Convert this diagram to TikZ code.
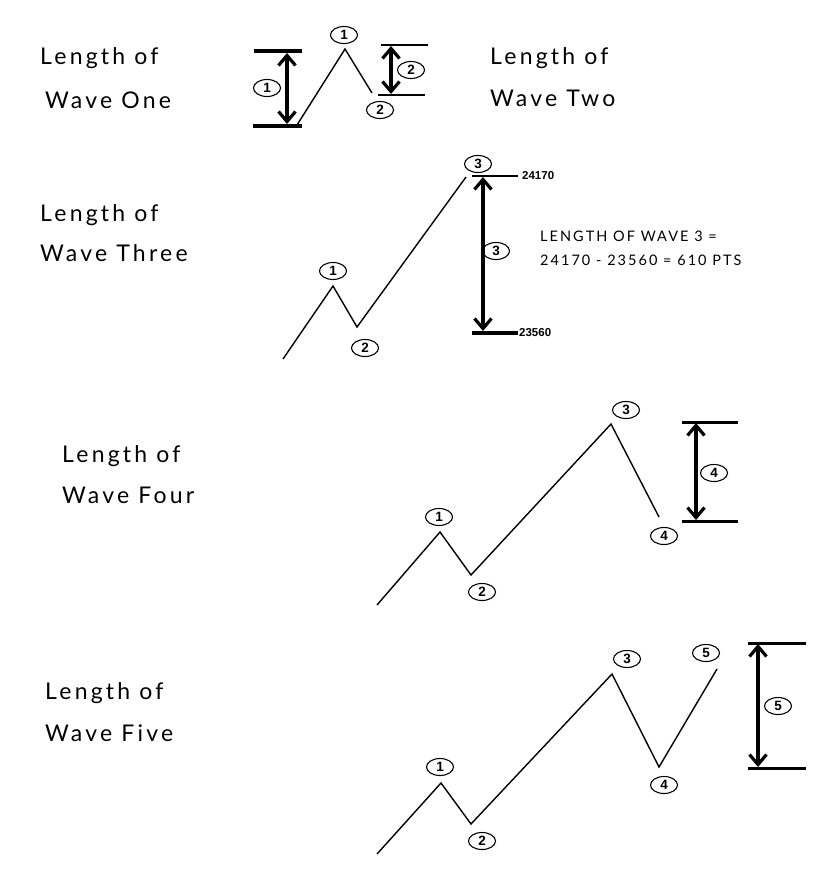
\documentclass[tikz,border=0pt]{standalone}
\usepackage{fontspec}
\usetikzlibrary{arrows.meta,shapes.geometric}
\newfontfamily\hand{Lato}[LetterSpace=14]
\newfontfamily\lbl{Liberation Sans}
\newfontfamily\handcaps{Lato}[LetterSpace=14]
\tikzset{
  title/.style={anchor=west,font=\hand\fontsize{23}{23}\selectfont,inner sep=0pt},
  num/.style={ellipse,draw,line width=1.1pt,inner xsep=3pt,inner ysep=0.5pt,font=\lbl\bfseries\fontsize{13.5}{13.5}\selectfont,minimum width=27pt,minimum height=17pt},
  wave/.style={line width=1.4pt,line join=miter},
  thickbar/.style={line width=4pt},
  thinbar/.style={line width=2pt},
  measure/.style={line width=3.2pt,{Straight Barb[length=10pt,width=17pt,line width=3.2pt]}-{Straight Barb[length=10pt,width=17pt,line width=3.2pt]}},
  price/.style={anchor=west,font=\lbl\bfseries\fontsize{11.5}{11.5}\selectfont,inner sep=0pt},
  note/.style={anchor=west,font=\handcaps\fontsize{14.5}{14.5}\selectfont,inner sep=0pt}
}
\begin{document}
\begin{tikzpicture}[x=1pt,y=-1pt]
\useasboundingbox (0,0) rectangle (831,869);
\fill[white] (0,0) rectangle (831,869);

% ---------- Panel 1 ----------
\node[title] (t1a) at (40,58) {Length of};
\node[title] (t1b) at (45,100) {Wave One};
\node[title] (t2a) at (490,58) {Length of};
\node[title] (t2b) at (490,98) {Wave Two};

\coordinate (a0) at (297,125);
\coordinate (a1) at (345,49);
\coordinate (a2) at (372,93);
\draw[wave] (a0) -- (a1) -- (a2);
\node[num] (a1l) at (344,35) {1};
\node[num] (a2l) at (380,110) {2};

\coordinate (b1l) at (254,51); \coordinate (b1r) at (302,51);
\coordinate (b2l) at (253,126); \coordinate (b2r) at (302,126);
\draw[thickbar] (b1l) -- (b1r);
\draw[thickbar] (b2l) -- (b2r);
\coordinate (m1t) at (287,53); \coordinate (m1b) at (287,124);
\draw[measure] (m1t) -- (m1b);
\node[num] (m1l) at (267,88) {1};

\coordinate (c1l) at (381,45); \coordinate (c1r) at (428,45);
\coordinate (c2l) at (378,95); \coordinate (c2r) at (425,95);
\draw[thinbar] (c1l) -- (c1r);
\draw[thinbar] (c2l) -- (c2r);
\coordinate (m2t) at (391,46); \coordinate (m2b) at (391,94);
\draw[measure] (m2t) -- (m2b);
\node[num] (m2l) at (411,70) {2};

% ---------- Panel 2 ----------
\node[title] (t3a) at (40,215) {Length of};
\node[title] (t3b) at (40,253) {Wave Three};

\coordinate (d0) at (283,359);
\coordinate (d1) at (333,286);
\coordinate (d2) at (357,327);
\coordinate (d3) at (466,177);
\draw[wave] (d0) -- (d1) -- (d2) -- (d3);
\node[num] (d1l) at (333,271) {1};
\node[num] (d2l) at (365,348) {2};
\node[num] (d3l) at (478,164) {3};

\coordinate (e1l) at (472,176); \coordinate (e1r) at (518,176);
\coordinate (e2l) at (472,333); \coordinate (e2r) at (518,333);
\draw[thinbar] (e1l) -- (e1r);
\draw[thickbar] (e2l) -- (e2r);
\coordinate (m3t) at (483,177); \coordinate (m3b) at (483,331);
\draw[measure] (m3t) -- (m3b);
\node[num] (m3l) at (496,251) {3};
\node[price] (p1) at (522,176) {24170};
\node[price] (p2) at (519,333) {23560};
\node[note] (n1) at (540,236) {LENGTH OF WAVE 3 =};
\node[note] (n2) at (540,260) {24170 - 23560 = 610 PTS};

% ---------- Panel 3 ----------
\node[title] (t4a) at (62,456) {Length of};
\node[title] (t4b) at (62,495) {Wave Four};

\coordinate (f0) at (377,605);
\coordinate (f1) at (440,532);
\coordinate (f2) at (471,575);
\coordinate (f3) at (611,424);
\coordinate (f4) at (659,517);
\draw[wave] (f0) -- (f1) -- (f2) -- (f3) -- (f4);
\node[num] (f1l) at (439,517) {1};
\node[num] (f2l) at (482,592) {2};
\node[num] (f3l) at (626,410) {3};
\node[num] (f4l) at (664,536) {4};

\coordinate (g1l) at (682,422); \coordinate (g1r) at (738,422);
\coordinate (g2l) at (682,521); \coordinate (g2r) at (738,521);
\draw[thickbar,line width=3pt] (g1l) -- (g1r);
\draw[thickbar,line width=3pt] (g2l) -- (g2r);
\coordinate (m4t) at (696,423); \coordinate (m4b) at (696,520);
\draw[measure] (m4t) -- (m4b);
\node[num] (m4l) at (714,473) {4};

% ---------- Panel 4 ----------
\node[title] (t5a) at (45,693) {Length of};
\node[title] (t5b) at (45,733) {Wave Five};

\coordinate (h0) at (377,854);
\coordinate (h1) at (441,783);
\coordinate (h2) at (471,824);
\coordinate (h3) at (612,674);
\coordinate (h4) at (659,767);
\coordinate (h5) at (717,669);
\draw[wave] (h0) -- (h1) -- (h2) -- (h3) -- (h4) -- (h5);
\node[num] (h1l) at (440,767) {1};
\node[num] (h2l) at (482,841) {2};
\node[num] (h3l) at (627,659) {3};
\node[num] (h4l) at (664,785) {4};
\node[num] (h5l) at (706,653) {5};

\coordinate (k1l) at (748,643); \coordinate (k1r) at (806,643);
\coordinate (k2l) at (748,768); \coordinate (k2r) at (806,768);
\draw[thickbar,line width=3pt] (k1l) -- (k1r);
\draw[thickbar,line width=3pt] (k2l) -- (k2r);
\coordinate (m5t) at (758,644); \coordinate (m5b) at (758,767);
\draw[measure] (m5t) -- (m5b);
\node[num] (m5l) at (778,706) {5};
\end{tikzpicture}
\end{document}
